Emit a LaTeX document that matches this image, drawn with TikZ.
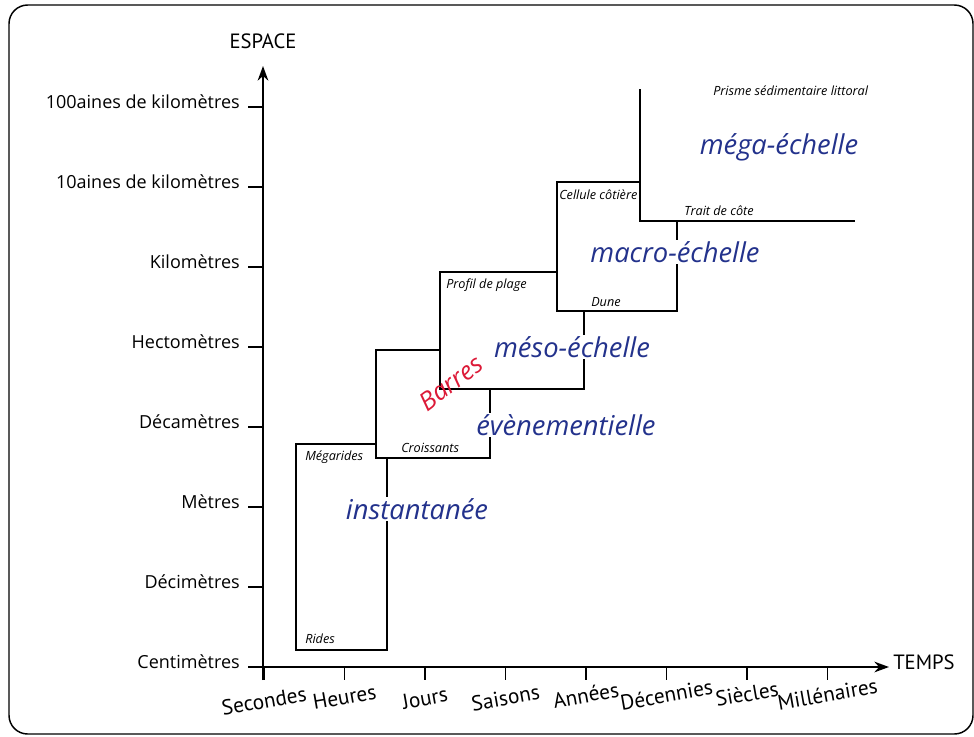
\documentclass[tikz,border=0pt]{standalone}
\usepackage{fontspec}
\setmainfont{Open Sans}
\newfontfamily\narrowfont{PT Sans}
\usetikzlibrary{arrows.meta}
\definecolor{scaleblue}{RGB}{35,50,140}
\definecolor{barred}{RGB}{220,25,55}
\tikzset{
  axisline/.style={line width=1.5pt, -{Stealth[length=11pt,width=8pt]}},
  tickline/.style={line width=1.1pt},
  boxline/.style={line width=1.35pt},
  ylab/.style={anchor=east, inner sep=0pt, font=\fontsize{13.5}{16}\selectfont},
  xlab/.style={rotate=10, inner sep=0pt, font=\narrowfont\fontsize{16}{18}\selectfont},
  axtitle/.style={inner sep=0pt, font=\narrowfont\fontsize{15.5}{18}\selectfont},
  small/.style={anchor=west, inner sep=0pt, font=\itshape\fontsize{9.5}{11}\selectfont},
  scalelab/.style={text=scaleblue, fill=white, inner sep=1pt, font=\itshape\fontsize{20.5}{24}\selectfont},
}
\begin{document}
\begin{tikzpicture}[x=0.75pt,y=-0.75pt]
\useasboundingbox (0,0) rectangle (974,736);
\draw[line width=1.1pt, rounded corners=14pt] (9,5) rectangle (973,734);

% axes
\coordinate (ystart) at (263,680);
\coordinate (yend) at (263,66);
\coordinate (xstart) at (248,667);
\coordinate (xend) at (889,667);
\draw[axisline] (ystart) -- (yend);
\draw[axisline] (xstart) -- (xend);
\node[axtitle] (espace) at (263,41) {ESPACE};
\node[axtitle, anchor=west] (temps) at (893,662) {TEMPS};

% y ticks and labels
\foreach \i/\t in {0/Centimètres,1/Décimètres,2/Mètres,3/Décamètres,4/Hectomètres,5/Kilomètres,6/10aines de kilomètres,7/100aines de kilomètres}{
  \draw[tickline] (248,667-80*\i) -- (263,667-80*\i);
  \node[ylab] (y\i) at (240,662-80*\i) {\t};
}
% x ticks and labels
\foreach \i/\t/\dy in {0/Secondes/34,1/Heures/30,2/Jours/31,3/Saisons/31,4/Années/28,5/Décennies/28,6/Siècles/27,7/Millénaires/27}{
  \draw[tickline] (264+80.5*\i,667) -- (264+80.5*\i,680);
  \node[xlab] (x\i) at (264+80.5*\i,667+\dy) {\t};
}

% scale boxes
\draw[boxline] (387,458) -- (387,650) -- (296,650) -- (296,444) -- (376,444);
\draw[boxline] (440,350) -- (376,350) -- (376,458) -- (490,458) -- (490,389);
\draw[boxline] (557,272) -- (440,272) -- (440,389) -- (584,389) -- (584,311);
\draw[boxline] (640,182) -- (557,182) -- (557,311) -- (677,311) -- (677,221);
\draw[boxline] (640,89) -- (640,221) -- (855,221);

% small labels
\node[small] (rides) at (305,639) {Rides};
\node[small] (megarides) at (305,457) {Mégarides};
\node[small] (croissants) at (401,448) {Croissants};
\node[small] (profil) at (446,285) {Profil de plage};
\node[small] (dune) at (591,302) {Dune};
\node[small] (cellule) at (559,195) {Cellule côtière};
\node[small] (trait) at (684,211) {Trait de côte};
\node[small] (prisme) at (713,91) {Prisme sédimentaire littoral};

% scale labels
\node[scalelab] (inst) at (417,509) {instantanée};
\node[scalelab] (even) at (566,425) {évènementielle};
\node[scalelab] (meso) at (572,347) {méso-échelle};
\node[scalelab] (macro) at (675,252) {macro-échelle};
\node[scalelab] (mega) at (779,147) {méga-échelle};
\node[text=barred, rotate=37, inner sep=0pt, font=\itshape\fontsize{19}{22}\selectfont] (barres) at (451,383) {Barres};
\end{tikzpicture}
\end{document}
